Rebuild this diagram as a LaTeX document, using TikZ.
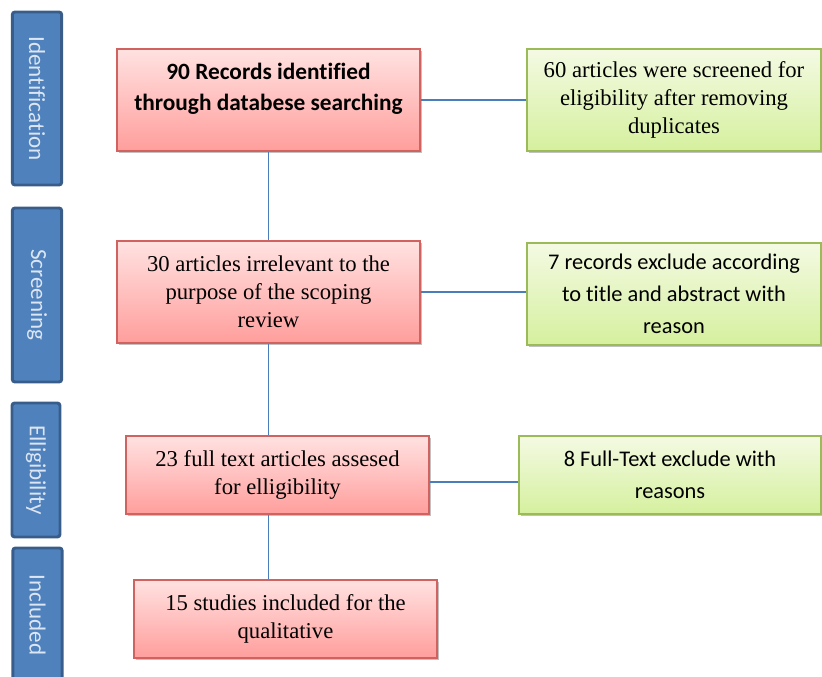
\documentclass[tikz,border=0pt]{standalone}
\usepackage{fontspec}
\setmainfont{Liberation Serif}
\newfontfamily\calibri[Ligatures=NoCommon]{Carlito}
\usetikzlibrary{shadows}

\definecolor{phasefill}{HTML}{4F81BD}
\definecolor{phaseborder}{HTML}{385D8A}
\definecolor{phasetext}{HTML}{DCE6F2}
\definecolor{redtop}{HTML}{FFE2E1}
\definecolor{redbottom}{HTML}{FF9E9C}
\definecolor{redborder}{HTML}{D0625F}
\definecolor{greentop}{HTML}{F4FAE3}
\definecolor{greenbottom}{HTML}{D5F09E}
\definecolor{greenborder}{HTML}{9BBB59}
\definecolor{linkcol}{HTML}{4A7EBB}

\begin{document}
\begin{tikzpicture}[x=0.75pt, y=-0.75pt,
	phase/.style={rectangle, rounded corners=2pt, draw=phaseborder, line width=2.2pt, fill=phasefill, text=phasetext, font=\calibri\fontsize{17.3}{20}\selectfont, rotate=-90, inner sep=0pt, minimum height=37pt},
	redbox/.style={rectangle, draw=redborder, line width=0.8pt, top color=redtop, bottom color=redbottom, align=center, inner sep=2pt, minimum width=227.25pt, drop shadow={shadow xshift=1.3pt, shadow yshift=-1.6pt, opacity=0.35, fill=black!70}},
	greenbox/.style={rectangle, draw=greenborder, line width=0.8pt, top color=greentop, bottom color=greenbottom, align=center, inner sep=2pt, drop shadow={shadow xshift=1.3pt, shadow yshift=-1.6pt, opacity=0.35, fill=black!70}},
	serif/.style={font=\fontsize{17}{21}\selectfont},
	sans/.style={font=\calibri\fontsize{16.8}{24}\selectfont},
	link/.style={draw=linkcol, line width=0.9pt}]
	
	\clip (0,0) rectangle (822,677);
	
	% fasi a sinistra
	\node[phase, minimum width=129.75pt] (P1) at (37,98.5) {Identification};
	\node[phase, minimum width=130.5pt] (P2) at (37,295) {Screening};
	\node[phase, minimum width=100.5pt, minimum height=36pt] (P3) at (36,470) {Elligibility};
	\node[phase, minimum width=100.5pt] (P4) at (37.5,615) {Included};
	
	% colonna centrale
	\node[redbox, minimum height=76.5pt, font=\calibri\bfseries\fontsize{17.5}{23.25}\selectfont] (R1) at (268.5,100) {90 Records identified\\through databese searching\\[-4pt]\mbox{}};
	\node[redbox, serif, minimum height=76.5pt] (R2) at (268.5,292) {30 articles irrelevant to the\\purpose of the scoping\\review};
	\node[redbox, serif, minimum height=58.5pt] (R3) at (277.5,475) {23 full text articles assesed\\for elligibility};
	\node[redbox, serif, minimum height=58.5pt] (R4) at (285.5,619) {15 studies included for the\\qualitative};
	
	% esclusioni a destra
	\node[greenbox, serif, minimum width=220.5pt, minimum height=76.5pt] (G1) at (674,100) {60 articles were screened for\\eligibility after removing\\duplicates};
	\node[greenbox, sans, minimum width=220.5pt, minimum height=76.5pt] (G2) at (674,294) {7 records exclude according\\to title and abstract with\\reason};
	\node[greenbox, sans, minimum width=226.5pt, minimum height=58.5pt] (G3) at (670,475) {8 Full-Text exclude with\\reasons};
	
	% collegamenti
	\draw[link] (R1.south) -- (R2.north);
	\draw[link] (R2.south) -- (R2.south |- R3.north);
	\draw[link] (R2.south |- R3.south) -- (R2.south |- R4.north);
	\draw[link] (R1.east) -- (G1.west);
	\draw[link] (R2.east) -- (R2.east -| G2.west);
	\draw[link] ([yshift=-5.25pt]R3.east) -- ([yshift=-5.25pt]G3.west);
	
\end{tikzpicture}
\end{document}
